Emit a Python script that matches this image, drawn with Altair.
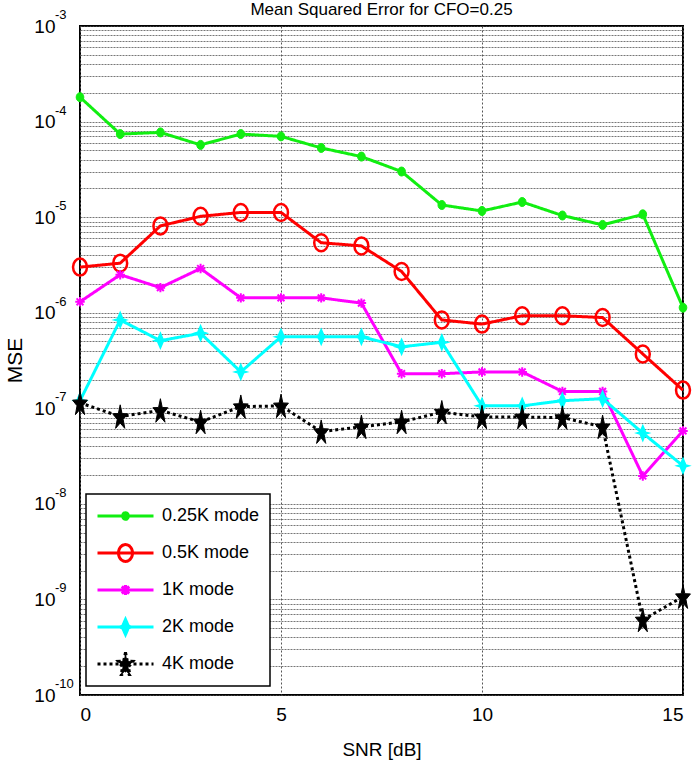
import math
import altair as alt
import pandas as pd

# ---------------- data ----------------
snr = list(range(16))
series = ["0.25K mode", "0.5K mode", "1K mode", "2K mode", "4K mode"]
mse_025k = [1.8e-4, 7.4e-5, 7.7e-5, 5.7e-5, 7.4e-5, 7.0e-5, 5.3e-5, 4.3e-5,
            3.0e-5, 1.34e-5, 1.16e-5, 1.44e-5, 1.04e-5, 8.3e-6, 1.07e-5, 1.13e-6]
mse_05k = [3.0e-6, 3.3e-6, 8.1e-6, 1.02e-5, 1.12e-5, 1.12e-5, 5.4e-6, 5.0e-6,
           2.7e-6, 8.4e-7, 7.6e-7, 9.3e-7, 9.3e-7, 8.9e-7, 3.7e-7, 1.55e-7]
mse_1k = [1.3e-6, 2.5e-6, 1.83e-6, 2.9e-6, 1.43e-6, 1.43e-6, 1.43e-6, 1.26e-6,
          2.3e-7, 2.3e-7, 2.4e-7, 2.4e-7, 1.5e-7, 1.5e-7, 1.96e-8, 5.8e-8]
mse_2k = [1.2e-7, 8.4e-7, 5.1e-7, 6.1e-7, 2.4e-7, 5.6e-7, 5.6e-7, 5.6e-7,
          4.4e-7, 4.9e-7, 1.06e-7, 1.06e-7, 1.2e-7, 1.26e-7, 5.5e-8, 2.5e-8]
mse_4k = [1.14e-7, 8.2e-8, 9.5e-8, 7.2e-8, 1.04e-7, 1.06e-7, 5.7e-8, 6.4e-8,
          7.2e-8, 9.1e-8, 8.1e-8, 8.1e-8, 8.0e-8, 6.4e-8, 6.1e-10, 1.07e-9]
x_ticks = [0, 5, 10, 15]
decade_exps = [-3, -4, -5, -6, -7, -8, -9, -10]

all_series = [mse_025k, mse_05k, mse_1k, mse_2k, mse_4k]
rows = []
for name, vals in zip(series, all_series):
    for s, v in zip(snr, vals):
        rows.append({"snr": s, "mse": v, "series": name})
df = pd.DataFrame(rows)

exp_df = pd.DataFrame({"val": [10.0 ** e for e in decade_exps],
                       "lab": [str(e) for e in decade_exps]})

# ---------------- styles ----------------
FONT = "Liberation Sans, Arial"
colors = ["#11EE11", "#FF0000", "#FF00FF", "#00FFFF", "#000000"]
fills = ["#11EE11", "transparent", "#FF00FF", "#00FFFF", "#000000"]
dashes = [[1, 0], [1, 0], [1, 0], [1, 0], [3, 3]]


def ellipse(rx, ry, cx=0.0, cy=0.0):
    return (f"M{cx+rx:.3f},{cy:.3f}A{rx:.3f},{ry:.3f} 0 1,1 {cx-rx:.3f},{cy:.3f}"
            f"A{rx:.3f},{ry:.3f} 0 1,1 {cx+rx:.3f},{cy:.3f}Z")


def asterisk(s):
    d = 0.72 * s
    return (f"M{-s:.3f},0H{s:.3f}M0,{-s:.3f}V{s:.3f}"
            f"M{-d:.3f},{-d:.3f}L{d:.3f},{d:.3f}M{-d:.3f},{d:.3f}L{d:.3f},{-d:.3f}")


def four_star(s):
    pts = [(0, -1), (0.38, -0.12), (0.8, 0), (0.38, 0.12), (0, 1), (-0.38, 0.12), (-0.8, 0), (-0.38, -0.12)]
    return "M" + "L".join(f"{x*s:.3f},{y*s:.3f}" for x, y in pts) + "Z"


def pentagram(R, sx=0.6, r_ratio=0.40):
    pts = []
    for k in range(10):
        ang = -math.pi / 2 + k * math.pi / 5
        rad = R if k % 2 == 0 else R * r_ratio
        pts.append((sx * rad * math.cos(ang), rad * math.sin(ang) + 0.1 * R))
    return "M" + "L".join(f"{x:.3f},{y:.3f}" for x, y in pts) + "Z"


# chart markers (unit box -1..1)
marker_paths = [ellipse(0.85, 1.0), ellipse(0.82, 1.0), asterisk(1.0), four_star(1.0), pentagram(1.0)]
marker_sizes = [81, 289, 90, 225, 676]
marker_filled = [True, False, False, True, True]
marker_sw = [1, 2.5, 2, 1.5, 1]

# legend symbols: 56px wide box -> 28px per unit
LINE = "M-1,0H1"
legend_paths = [
    LINE + ellipse(0.10, 0.12),
    LINE + ellipse(0.25, 0.30),
    LINE + asterisk(0.18),
    LINE + four_star(0.27),
    LINE + pentagram(0.46),
]

x_scale = alt.Scale(domain=[0, 15], nice=False, zero=False)
y_scale = alt.Scale(type="log", domain=[1e-10, 1e-3], nice=False)

y_values = []
for e in range(-10, -3):
    for k in range(1, 10):
        y_values.append(k * 10.0 ** e)
y_values.append(1e-3)

is_decade = "abs(log(datum.value)/LN10 - round(log(datum.value)/LN10)) < 0.001"
GRID = "#555555"

x_enc = alt.X("snr:Q", scale=x_scale, axis=alt.Axis(
    values=x_ticks, format="d", title="SNR [dB]", ticks=False, domain=False,
    grid=True, gridColor=GRID, gridDash=[2, 2], gridWidth=1,
    labelFont=FONT, labelFontSize=19, labelPadding=10, labelColor="black",
    titleFont=FONT, titleFontSize=19, titleFontWeight="normal", titleColor="black",
    titleY=45))
y_enc = alt.Y("mse:Q", scale=y_scale, axis=alt.Axis(
    values=y_values, labelExpr=f"{is_decade} ? '10' : ''", title="MSE",
    ticks=False, domain=False, grid=True, gridColor=GRID, gridDash=[2, 1], gridWidth=1,
    gridOpacity=0.8,
    labelFont=FONT, labelFontSize=19, labelPadding=25, labelColor="black",
    titleFont=FONT, titleFontSize=21, titleFontWeight="normal", titleColor="black",
    titleX=-55, titleY=334, labelOverlap=False))

base = alt.Chart(df)

line_layers = []
point_layers = []
for i, name in enumerate(series):
    sub = base.transform_filter(alt.datum.series == name)
    line_layers.append(
        sub.mark_line(color=colors[i], strokeWidth=3, strokeDash=dashes[i]).encode(
            x=x_enc if i == 0 else alt.X("snr:Q", scale=x_scale),
            y=y_enc if i == 0 else alt.Y("mse:Q", scale=y_scale))
    )
    kw = dict(shape=marker_paths[i], size=marker_sizes[i], strokeWidth=marker_sw[i],
              filled=marker_filled[i], opacity=1)
    if marker_filled[i]:
        kw.update(fill=colors[i], stroke=colors[i])
    else:
        kw.update(stroke=colors[i], fill="transparent")
    point_layers.append(
        sub.mark_point(**kw).encode(
            x=alt.X("snr:Q", scale=x_scale), y=alt.Y("mse:Q", scale=y_scale))
    )

# legend-only layer (no rows reach it: the legend is built from the explicit domain)
legend_layer = base.transform_filter("datum.snr < 0").mark_point(filled=True).encode(
    x=alt.X("snr:Q", scale=x_scale), y=alt.Y("mse:Q", scale=y_scale),
    stroke=alt.Stroke("series:N", scale=alt.Scale(domain=series, range=colors),
                      legend=alt.Legend(title=None)),
    fill=alt.Fill("series:N", scale=alt.Scale(domain=series, range=fills),
                  legend=alt.Legend(title=None)),
    shape=alt.Shape("series:N", scale=alt.Scale(domain=series, range=legend_paths),
                    legend=alt.Legend(title=None)),
    strokeDash=alt.StrokeDash("series:N", scale=alt.Scale(domain=series, range=dashes),
                              legend=alt.Legend(title=None)),
)

exp_layer = alt.Chart(exp_df).mark_text(
    align="left", baseline="alphabetic", dy=-7, fontSize=13, font=FONT, color="black"
).encode(y=alt.Y("val:Q", scale=y_scale), x=alt.value(-25), text="lab:N")

chart = alt.layer(*line_layers, *point_layers, legend_layer, exp_layer).properties(
    width=603, height=669,
    autosize=alt.AutoSizeParams(type="none"),
    padding={"left": 80, "top": 26, "right": 12, "bottom": 69},
    background="white",
    title=alt.TitleParams("Mean Squared Error for CFO=0.25", font=FONT, fontSize=17,
                          fontWeight="normal", color="black", offset=6, dy=16,
                          anchor="middle"),
).configure_view(
    stroke="black", strokeWidth=2
).configure_legend(
    orient="none", legendX=6, legendY=468, padding=10,
    fillColor="white", strokeColor="black", strokeWidth=1.5, cornerRadius=0,
    symbolSize=3136, symbolStrokeWidth=3, symbolOpacity=1, clipHeight=24,
    rowPadding=13, labelOffset=7, labelFont=FONT, labelFontSize=18, labelColor="black",
    symbolOffset=0, labelLimit=300,
)

chart.save("out.html", embed_options={"renderer": "svg", "actions": False})
